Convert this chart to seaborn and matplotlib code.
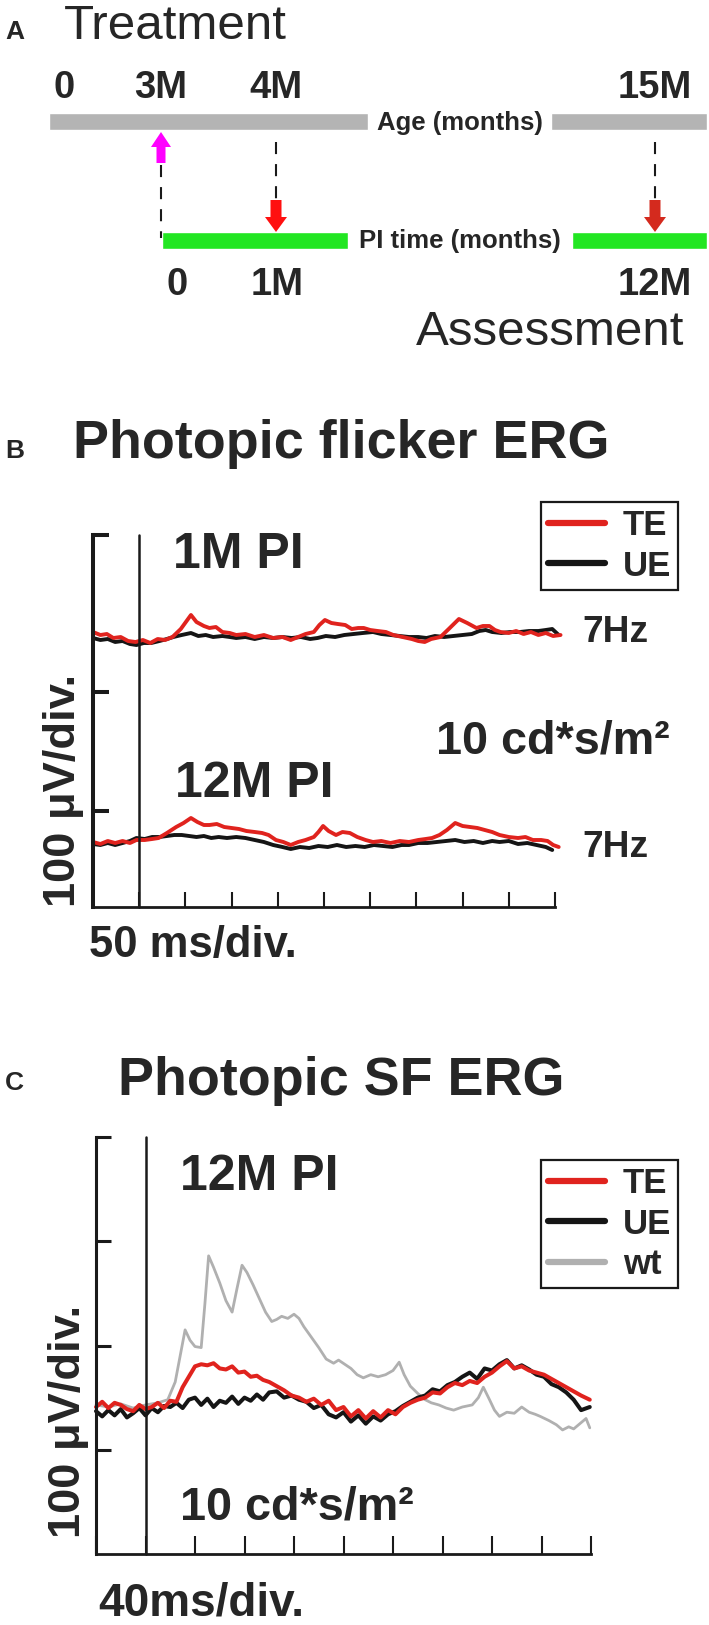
import numpy as np
import pandas as pd
import seaborn as sns
import matplotlib
matplotlib.use('Agg')
from matplotlib import pyplot as plt

# ---- data ----
# A: timeline
age_labels = ['0', '3M', '4M', '15M']
pi_labels = ['0', '1M', '12M']

# B: photopic flicker ERG (t in ms, v in uV, 50 ms/div)
b1_te_t = [0, 8, 15, 22, 30, 38, 46, 54, 62, 70, 78, 86, 95, 106, 112, 120, 126, 133, 140, 148,
           155, 165, 175, 185, 195, 205, 214, 222, 230, 239, 245, 251, 258, 265, 273, 280, 287, 293, 300, 308,
           317, 325, 335, 345, 352, 359, 366, 376, 385, 396, 405, 415, 422, 429, 435, 441, 450, 458, 466, 474,
           482, 490, 498, 506]
b1_te_v = [275, 272, 273, 269, 270, 266, 265, 267, 264, 268, 267, 270, 278, 292, 285, 281, 279, 280, 275, 274,
           272, 273, 270, 272, 269, 270, 267, 270, 273, 275, 282, 287, 284, 283, 282, 278, 279, 279, 277, 276,
           275, 272, 270, 268, 266, 265, 268, 270, 278, 288, 284, 279, 281, 281, 277, 275, 274, 276, 273, 275,
           272, 274, 271, 272]
b1_ue_t = [0, 8, 16, 24, 32, 40, 47, 55, 63, 72, 80, 87, 96, 106, 114, 122, 130, 140, 148, 155,
           165, 175, 185, 195, 205, 215, 225, 235, 243, 252, 262, 272, 282, 292, 303, 312, 322, 332, 342, 352,
           361, 370, 380, 390, 400, 410, 418, 425, 432, 442, 452, 462, 472, 482, 490, 497, 504]
b1_ue_v = [269, 267, 268, 265, 266, 263, 262, 264, 264, 266, 268, 270, 272, 274, 271, 272, 270, 271, 270, 269,
           270, 268, 270, 269, 270, 269, 270, 268, 269, 271, 270, 272, 273, 274, 275, 273, 272, 271, 270, 270,
           269, 271, 270, 271, 272, 273, 276, 277, 275, 274, 275, 275, 276, 276, 277, 278, 272]
b12_te_t = [0, 8, 16, 24, 32, 40, 47, 56, 64, 71, 80, 90, 98, 106, 113, 120, 126, 134, 142, 150,
            158, 166, 175, 183, 190, 198, 206, 214, 222, 230, 239, 244, 249, 255, 263, 270, 278, 286, 295, 303,
            312, 322, 332, 342, 352, 360, 367, 375, 383, 392, 400, 408, 416, 424, 432, 440, 450, 460, 468, 476,
            485, 492, 498, 504]
b12_te_v = [65, 63, 66, 64, 66, 64, 67, 67, 68, 69, 74, 80, 84, 89, 85, 82, 82, 83, 80, 79,
            78, 76, 75, 74, 72, 67, 65, 62, 65, 67, 70, 75, 81, 76, 72, 75, 74, 70, 67, 65,
            66, 64, 66, 65, 67, 68, 69, 72, 77, 84, 81, 80, 79, 77, 75, 72, 70, 69, 70, 67,
            67, 66, 62, 60]
b12_ue_t = [0, 8, 16, 24, 32, 40, 47, 56, 64, 72, 80, 88, 96, 104, 112, 120, 128, 136, 145, 155,
            165, 175, 185, 195, 205, 214, 224, 234, 244, 254, 264, 274, 284, 294, 304, 314, 324, 334, 342, 352,
            362, 372, 382, 392, 402, 412, 422, 432, 440, 450, 460, 470, 480, 490, 497]
b12_ue_v = [63, 62, 64, 62, 64, 66, 69, 68, 70, 70, 71, 72, 72, 71, 70, 71, 69, 70, 69, 70,
            69, 67, 65, 62, 60, 58, 60, 59, 61, 60, 62, 60, 61, 60, 62, 61, 60, 62, 62, 64,
            64, 65, 66, 67, 65, 66, 64, 66, 65, 66, 63, 64, 62, 60, 57]
b_yticks = [96, 215, 372]

# C: photopic SF ERG (t in ms, v in uV, 40 ms/div)
c_t = [0, 5, 10, 15, 20, 25, 30, 35, 40, 45, 50, 55, 60, 65, 70, 75, 80, 85, 90, 95,
       100, 105, 110, 115, 120, 125, 130, 135, 140, 146, 152, 158, 164, 170, 176, 182, 188, 194, 200, 206,
       212, 218, 224, 230, 236, 242, 248, 254, 260, 266, 272, 278, 284, 290, 296, 302, 308, 314, 320, 326,
       332, 338, 344, 350, 356, 362, 368, 374, 380, 386, 392, 399]
c_te_v = [141, 146, 140, 145, 143, 139, 137, 143, 139, 141, 145, 140, 147, 146, 160, 170, 180, 182, 181, 183,
          178, 177, 180, 174, 175, 170, 171, 167, 165, 161, 157, 152, 150, 146, 149, 143, 147, 138, 141, 132,
          138, 130, 137, 131, 138, 134, 141, 145, 148, 150, 155, 154, 160, 164, 162, 166, 164, 170, 174, 180,
          185, 178, 180, 176, 174, 172, 168, 164, 160, 156, 152, 148]
c_ue_v = [137, 132, 138, 133, 139, 131, 135, 140, 133, 140, 136, 142, 141, 145, 140, 148, 150, 143, 149, 141,
          147, 145, 151, 144, 150, 147, 153, 148, 155, 156, 150, 152, 148, 146, 140, 143, 134, 131, 136, 127,
          133, 125, 132, 128, 134, 137, 142, 146, 150, 152, 158, 156, 162, 165, 170, 174, 168, 178, 176, 182,
          186, 178, 181, 177, 172, 170, 163, 160, 155, 148, 138, 141]
c_wt_t = [0, 10, 20, 30, 40, 50, 58, 64, 68, 72, 76, 80, 85, 88, 91, 95, 100, 105, 110, 114,
          118, 122, 127, 132, 137, 142, 146, 150, 155, 160, 164, 168, 174, 180, 186, 192, 196, 201, 206, 211,
          216, 222, 228, 234, 240, 245, 249, 254, 260, 266, 271, 277, 283, 289, 296, 304, 309, 313, 318, 322,
          326, 332, 338, 344, 350, 355, 359, 366, 372, 377, 382, 386, 392, 396, 399]
c_wt_v = [143, 141, 144, 140, 143, 145, 148, 165, 190, 215, 205, 199, 198, 240, 286, 275, 260, 243, 232, 255,
          277, 270, 258, 245, 232, 223, 225, 228, 226, 230, 226, 218, 208, 198, 187, 183, 186, 182, 178, 172,
          169, 172, 170, 172, 176, 184, 172, 161, 154, 148, 145, 143, 140, 138, 141, 143, 150, 160, 148, 138,
          132, 136, 135, 141, 136, 134, 132, 128, 124, 119, 122, 120, 126, 130, 121]

RED = '#e0231e'
BLACK = '#151515'
GREY = '#b0b0b0'
pal = {'TE': RED, 'UE': BLACK, 'wt': GREY}

sns.set_theme(style='white')
plt.rcParams['font.family'] = ['Liberation Sans', 'DejaVu Sans']

W, H = 709, 1625
fig = plt.figure(figsize=(W / 100, H / 100), dpi=100)


def put(x, y, s, size, weight='bold', ha='left', **kw):
    # x, y in pixels from the top-left corner, y at baseline
    fig.text(x / W, 1 - y / H, s, fontsize=size, fontweight=weight, ha=ha, va='baseline', **kw)


def vlabel(x, y, s, size):
    fig.text(x / W, 1 - y / H, s, fontsize=size, fontweight='bold', rotation=90,
             rotation_mode='anchor', ha='center', va='baseline')


# ---------------- panel A ----------------
ax_a = fig.add_axes([0, 1 - 360 / H, 1, 360 / H])
ax_a.set_xlim(0, W)
ax_a.set_ylim(360, 0)
ax_a.axis('off')

age_x = [64, 161, 276, 655]
pi_x = [177, 277, 655]
for lab, x in zip(age_labels, age_x):
    ax_a.text(x, 98, lab, ha='center', va='baseline', fontsize=27.5, fontweight='bold')
for lab, x in zip(pi_labels, pi_x):
    ax_a.text(x, 295, lab, ha='center', va='baseline', fontsize=27.5, fontweight='bold')

for x0, x1 in [(49, 368), (551, 707)]:
    ax_a.barh(121.5, x1 - x0, left=x0, height=17, color='#b4b4b4')
for x0, x1 in [(162, 348), (572, 707)]:
    ax_a.barh(240.5, x1 - x0, left=x0, height=17, color='#22e622')
ax_a.text(377, 130, 'Age (months)', fontsize=18.5, fontweight='bold', va='baseline')
ax_a.text(359, 248, 'PI time (months)', fontsize=18.5, fontweight='bold', va='baseline')

dash = (0, (5.8, 4.8))
ax_a.plot([161, 161], [165, 238], color='k', lw=1.5, ls=dash)
ax_a.plot([276, 276], [142, 202], color='k', lw=1.5, ls=dash)
ax_a.plot([655, 655], [142, 202], color='k', lw=1.5, ls=dash)
ax_a.arrow(161, 163, 0, -31, width=9, head_width=20, head_length=15,
           length_includes_head=True, color='#ff00ff', lw=0)
ax_a.arrow(276, 200, 0, 32, width=11, head_width=22, head_length=15,
           length_includes_head=True, color='#ff1010', lw=0)
ax_a.arrow(655, 200, 0, 32, width=11, head_width=22, head_length=15,
           length_includes_head=True, color='#d42a1e', lw=0)

put(5, 39, 'A', 19)
put(64, 39, 'Treatment', 35.5, weight='normal')
put(416, 345, 'Assessment', 35.5, weight='normal')


def style_axes(ax, xmax, xstep, yticks, ylim, xlen, ylen, lw_left):
    ax.set_xlim(0, xmax)
    ax.set_ylim(0, ylim)
    ax.set_xticks(np.arange(0, xmax + 1, xstep))
    ax.set_yticks(yticks)
    ax.set_xlabel('')
    ax.set_ylabel('')
    ax.spines[['top', 'right']].set_visible(False)
    ax.spines['left'].set_linewidth(lw_left)
    ax.spines['bottom'].set_linewidth(2.0)
    ax.spines['left'].set_color('k')
    ax.spines['bottom'].set_color('k')
    ax.tick_params(axis='x', bottom=True, direction='in', length=xlen, width=1.5,
                   color='k', labelbottom=False)
    ax.tick_params(axis='y', left=True, direction='in', length=ylen, width=lw_left,
                   color='k', labelleft=False)
    ax.patch.set_alpha(0)
    for ln in ax.lines:
        ln.set_clip_on(False)


def make_legend(ax, names, anchor, lw):
    hd, lb = ax.get_legend_handles_labels()
    lookup = dict(zip(lb, hd))
    leg = ax.legend([lookup[n] for n in names], names, loc='upper right', bbox_to_anchor=anchor,
                    borderaxespad=0, frameon=True, fancybox=False, framealpha=1, edgecolor='k',
                    prop={'size': 25, 'weight': 'bold'}, handlelength=1.65, handletextpad=0.5,
                    labelspacing=0.22, borderpad=0.2)
    leg.get_frame().set_linewidth(1.6)
    for ln, n in zip(leg.get_lines(), names):
        ln.set_linewidth(lw[n])


# ---------------- panel B ----------------
df_b = pd.concat([
    pd.DataFrame({'t': b1_ue_t, 'v': b1_ue_v, 'eye': 'UE', 'pi': '1M'}),
    pd.DataFrame({'t': b12_ue_t, 'v': b12_ue_v, 'eye': 'UE', 'pi': '12M'}),
    pd.DataFrame({'t': b1_te_t, 'v': b1_te_v, 'eye': 'TE', 'pi': '1M'}),
    pd.DataFrame({'t': b12_te_t, 'v': b12_te_v, 'eye': 'TE', 'pi': '12M'}),
])
ax_b = fig.add_axes([93 / W, 1 - 907 / H, 462 / W, 372 / H])
sns.lineplot(data=df_b, x='t', y='v', hue='eye', units='pi', estimator=None, sort=False,
             hue_order=['UE', 'TE'], palette=pal, lw=2.8, ax=ax_b)
ax_b.axvline(50, color='k', lw=1.8)
style_axes(ax_b, 500, 50, b_yticks, 372, 10.5, 11.5, 2.9)
make_legend(ax_b, ['TE', 'UE'], ((678 - 93) / 462, (907 - 502) / 372), {'TE': 4.5, 'UE': 4.5})

put(5, 458, 'B', 19)
put(73, 458, 'Photopic flicker ERG', 38.8)
put(173, 568, '1M PI', 36)
put(175, 797, '12M PI', 36)
put(582, 642, '7Hz', 26.7)
put(582, 857, '7Hz', 26.7)
put(436, 753, '10 cd*s/m²', 33.7)
put(89, 957, '50 ms/div.', 31.4)
vlabel(75, 790, '100 μV/div.', 32.6)

# ---------------- panel C ----------------
df_c = pd.concat([
    pd.DataFrame({'t': c_wt_t, 'v': c_wt_v, 'eye': 'wt'}),
    pd.DataFrame({'t': c_t, 'v': c_ue_v, 'eye': 'UE'}),
    pd.DataFrame({'t': c_t, 'v': c_te_v, 'eye': 'TE'}),
])
ax_c = fig.add_axes([96 / W, 1 - 1554 / H, 495 / W, 417 / H])
sns.lineplot(data=df_c, x='t', y='v', hue='eye', estimator=None, sort=False,
             hue_order=['wt', 'UE', 'TE'], palette=pal, ax=ax_c)
for ln, w in zip(ax_c.lines, [2.0, 2.9, 2.9]):
    ln.set_linewidth(w)
ax_c.axvline(40, color='k', lw=1.8)
style_axes(ax_c, 400, 40, [100, 200, 300, 400], 400, 13, 10.8, 2.2)
make_legend(ax_c, ['TE', 'UE', 'wt'], ((678 - 96) / 495, (1554 - 1160) / 417),
            {'TE': 4.5, 'UE': 4.5, 'wt': 4.5})

put(5, 1090, 'C', 19)
put(118, 1095, 'Photopic SF ERG', 38.8)
put(180, 1190, '12M PI', 36)
put(180, 1520, '10 cd*s/m²', 33.7)
put(98, 1616, '40ms/div.', 33)
vlabel(80, 1421, '100 μV/div.', 32.6)

fig.savefig('out.png', dpi=100)
